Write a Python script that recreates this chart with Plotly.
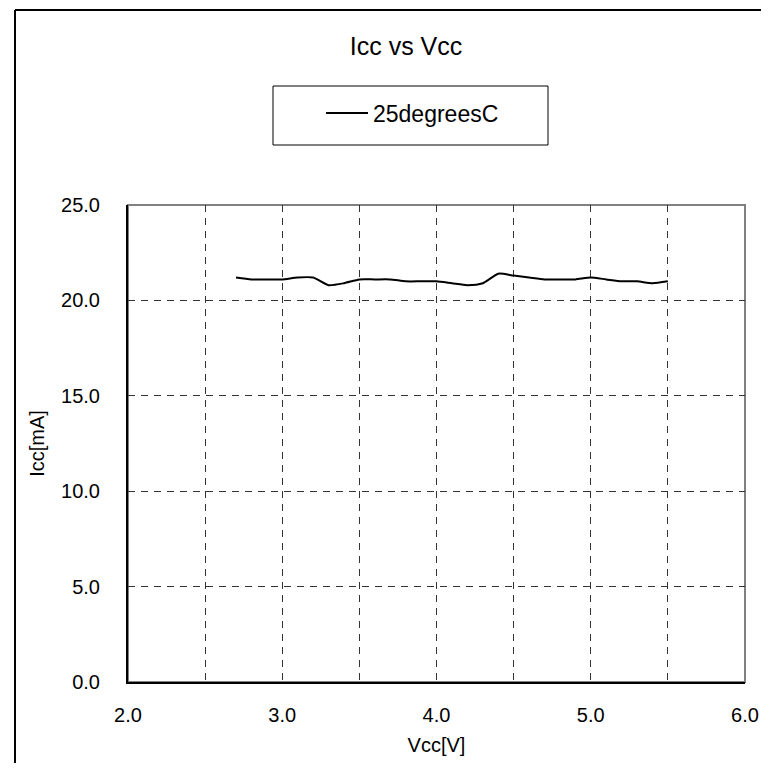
import plotly.graph_objects as go

vcc = [2.7, 2.8, 2.9, 3.0, 3.1, 3.2, 3.3, 3.4, 3.5, 3.6, 3.7, 3.8, 3.9, 4.0, 4.1,
       4.2, 4.3, 4.4, 4.5, 4.6, 4.7, 4.8, 4.9, 5.0, 5.1, 5.2, 5.3, 5.4, 5.5]
icc_25c = [21.2, 21.1, 21.1, 21.1, 21.2, 21.2, 20.8, 20.9, 21.1, 21.1, 21.1, 21.0,
           21.0, 21.0, 20.9, 20.8, 20.9, 21.4, 21.3, 21.2, 21.1, 21.1, 21.1, 21.2,
           21.1, 21.0, 21.0, 20.9, 21.0]
series_name = "25degreesC"
x_ticks = [2.0, 3.0, 4.0, 5.0, 6.0]
y_ticks = [0.0, 5.0, 10.0, 15.0, 20.0, 25.0]

FONT = "Arial, Liberation Sans, sans-serif"
OFF = 8  # browser body margin
W, H = 753, 755
# plot area in page pixels: x 128..745, y 205..682
L = 128 - OFF
T = 205 - OFF
R = W - (745 - OFF)
B = H - (682 - OFF)
pw, ph = W - L - R, H - T - B

def px_x(p):
    return (p - OFF - L) / pw

def px_y(p):
    return (H - B - (p - OFF)) / ph

fig = go.Figure()
fig.add_trace(go.Scatter(
    x=vcc, y=icc_25c, mode="lines", name=series_name,
    line=dict(color="black", width=2, shape="spline", smoothing=0.6),
))

grid = dict(showgrid=True, gridcolor="#333333", gridwidth=1, griddash="7px,6px")

fig.update_layout(
    width=W, height=H,
    margin=dict(l=L, r=R, t=T, b=B, autoexpand=False),
    paper_bgcolor="white", plot_bgcolor="white",
    font=dict(family=FONT, size=20, color="black"),
    title=dict(text="Icc vs Vcc", x=(406 - OFF) / W, xref="container", xanchor="center",
               y=1 - (46 - OFF) / H, yref="container", yanchor="middle",
               font=dict(size=25, family=FONT, color="black")),
    showlegend=True,
    legend=dict(x=px_x(321), y=px_y(113), xanchor="left", yanchor="middle",
                bgcolor="rgba(0,0,0,0)", borderwidth=0, itemwidth=42,
                font=dict(size=23, family=FONT, color="black")),
    xaxis=dict(range=[2.0, 6.0], tickvals=x_ticks, ticktext=[f"{v:.1f}" for v in x_ticks],
               showline=True, linecolor="black", linewidth=2, zeroline=False,
               ticks="", ticklabelstandoff=14,
               minor=dict(dtick=0.5, tick0=2.0, showgrid=True, gridcolor="#333333",
                          griddash="7px,6px", gridwidth=1),
               title=dict(text="Vcc[V]", standoff=13, font=dict(size=20)),
               tickfont=dict(size=20), **grid),
    yaxis=dict(range=[0, 25], tickvals=y_ticks, ticktext=[f"{v:.1f}" for v in y_ticks],
               showline=True, linecolor="black", linewidth=2, zeroline=False,
               ticks="", ticklabelstandoff=22,
               title=dict(text="Icc[mA]", standoff=11, font=dict(size=20)),
               tickfont=dict(size=20), **grid),
    shapes=[
        dict(type="rect", xref="paper", yref="paper", x0=0, x1=1, y0=0, y1=1,
             line=dict(color="#808080", width=2), layer="below"),
        dict(type="rect", xref="paper", yref="paper",
             x0=px_x(273), x1=px_x(548), y0=px_y(145), y1=px_y(86),
             line=dict(color="black", width=1)),
        dict(type="line", xref="paper", yref="paper",
             x0=px_x(15), x1=px_x(15), y0=px_y(10), y1=px_y(800),
             line=dict(color="black", width=2)),
        dict(type="line", xref="paper", yref="paper",
             x0=px_x(15), x1=px_x(800), y0=px_y(10), y1=px_y(10),
             line=dict(color="black", width=2)),
    ],
)

fig.write_html("out.html")
